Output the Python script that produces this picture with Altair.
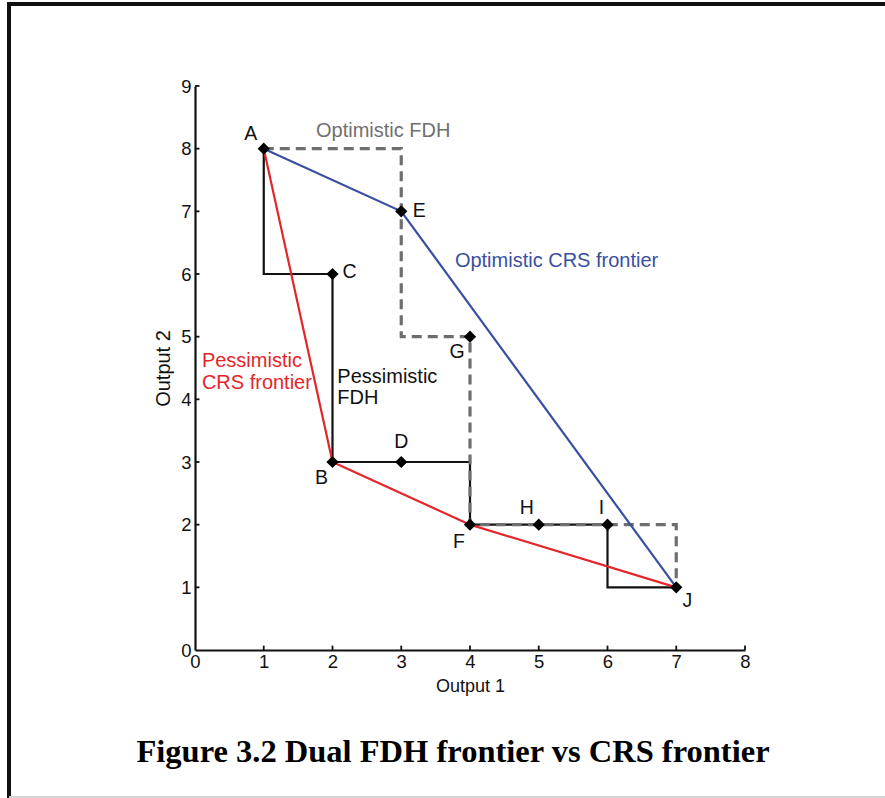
import altair as alt
import pandas as pd

# Decision-making units
unit_names = ["A", "B", "C", "D", "E", "F", "G", "H", "I", "J"]
output1 = [1, 2, 2, 3, 3, 4, 4, 5, 6, 7]
output2 = [8, 3, 6, 3, 7, 2, 5, 2, 2, 1]

# Frontier paths (vertices in drawing order)
opt_fdh_x = [1, 3, 3, 4, 4, 7, 7]
opt_fdh_y = [8, 8, 5, 5, 2, 2, 1]
pes_fdh_x = [1, 1, 2, 2, 4, 4, 6, 6, 7]
pes_fdh_y = [8, 6, 6, 3, 3, 2, 2, 1, 1]
opt_crs_units = ["A", "E", "J"]
pes_crs_units = ["A", "B", "F", "J"]

x_ticks = [0, 1, 2, 3, 4, 5, 6, 7, 8]
y_ticks = [0, 1, 2, 3, 4, 5, 6, 7, 8, 9]

# Annotation texts with their anchor points in data units
ann_text = ["Optimistic FDH", "Optimistic CRS frontier", "Pessimistic", "CRS frontier", "Pessimistic", "FDH"]
ann_x = [1.76, 3.78, 0.10, 0.10, 2.07, 2.07]
ann_y = [8.28, 6.21, 4.61, 4.26, 4.36, 4.02]
ann_color = ["#707070", "#3a4fa2", "#e4262b", "#e4262b", "#111111", "#111111"]

caption = "Figure 3.2 Dual FDH frontier vs CRS frontier"

FONT = "Liberation Sans"
X = alt.Scale(domain=[0, 8], nice=False, zero=True)
Y = alt.Scale(domain=[0, 9], nice=False, zero=True)

units = pd.DataFrame({"name": unit_names, "x": output1, "y": output2})
lookup = dict(zip(unit_names, zip(output1, output2)))


def path_frame(xs, ys):
    return pd.DataFrame({"x": xs, "y": ys, "i": range(len(xs))})


def path_layer(df, color, width, dash=None):
    kw = dict(color=color, strokeWidth=width, strokeCap="butt", strokeJoin="miter")
    if dash:
        kw["strokeDash"] = dash
    return alt.Chart(df).mark_line(**kw).encode(
        x=alt.X("x:Q", scale=X), y=alt.Y("y:Q", scale=Y), order="i:Q"
    )


base_axes = alt.Chart(units).mark_point(opacity=0).encode(
    x=alt.X(
        "x:Q", scale=X, title="Output 1",
        axis=alt.Axis(values=x_ticks, format="d", grid=False, ticks=False,
                      domainColor="#111111", domainWidth=2.2,
                      labelFont=FONT, labelFontSize=18.5, labelColor="#111111",
                      labelPadding=2, labelFlush=False,
                      titleFont=FONT, titleFontSize=18, titleFontWeight="normal",
                      titleColor="#111111", titlePadding=7),
    ),
    y=alt.Y(
        "y:Q", scale=Y, title="Output 2",
        axis=alt.Axis(values=y_ticks, format="d", grid=False, ticks=False,
                      domainColor="#111111", domainWidth=2.2,
                      labelFont=FONT, labelFontSize=18.5, labelColor="#111111",
                      labelPadding=4, labelFlush=False,
                      titleFont=FONT, titleFontSize=20, titleFontWeight="normal",
                      titleColor="#111111", titlePadding=7),
    ),
)

# Inward tick marks on both axes
xt = pd.DataFrame({"x": x_ticks[1:], "y0": 0, "y1": 0.07})
yt = pd.DataFrame({"y": y_ticks[1:], "x0": 0, "x1": 0.065})
x_tick_layer = alt.Chart(xt).mark_rule(color="#111111", strokeWidth=1.8).encode(
    x=alt.X("x:Q", scale=X), y=alt.Y("y0:Q", scale=Y), y2="y1:Q"
)
y_tick_layer = alt.Chart(yt).mark_rule(color="#111111", strokeWidth=1.8).encode(
    y=alt.Y("y:Q", scale=Y), x=alt.X("x0:Q", scale=X), x2="x1:Q"
)

pes_fdh = path_layer(path_frame(pes_fdh_x, pes_fdh_y), "#111111", 2.2)
opt_fdh = path_layer(path_frame(opt_fdh_x, opt_fdh_y), "#6e6e6e", 3.2, [10, 6])
pes_crs = path_layer(
    path_frame([lookup[u][0] for u in pes_crs_units], [lookup[u][1] for u in pes_crs_units]),
    "#e4262b", 2.2,
)
opt_crs = path_layer(
    path_frame([lookup[u][0] for u in opt_crs_units], [lookup[u][1] for u in opt_crs_units]),
    "#3a4fa2", 2.2,
)

points = alt.Chart(units).mark_point(
    shape="diamond", filled=True, size=150, color="#000000", opacity=1
).encode(x=alt.X("x:Q", scale=X), y=alt.Y("y:Q", scale=Y))

# Letter label placement around each unit (pixel offsets)
label_offsets = {
    "A": (-13, -15), "B": (-11, 16), "C": (17, -2), "D": (0, -20), "E": (18, 0),
    "F": (-11, 17), "G": (-13, 15), "H": (-12, -17), "I": (-6, -17), "J": (11, 14),
}
letter_layers = []
for name, (dx, dy) in label_offsets.items():
    letter_layers.append(
        alt.Chart(units[units["name"] == name]).mark_text(
            font=FONT, fontSize=19.5, color="#111111", dx=dx, dy=dy
        ).encode(x=alt.X("x:Q", scale=X), y=alt.Y("y:Q", scale=Y), text="name:N")
    )

ann = pd.DataFrame({"t": ann_text, "x": ann_x, "y": ann_y, "c": ann_color})
annotations = alt.Chart(ann).mark_text(
    font=FONT, fontSize=20, align="left", baseline="middle"
).encode(
    x=alt.X("x:Q", scale=X), y=alt.Y("y:Q", scale=Y), text="t:N",
    color=alt.Color("c:N", scale=None),
)

# Caption beneath the plot
caption_layer = alt.Chart(pd.DataFrame({"t": [caption]})).mark_text(
    font="Liberation Serif", fontSize=32.5, fontWeight="bold", color="#000000",
    align="center", baseline="middle",
).encode(x=alt.value(258), y=alt.value(666), text="t:N")

# Figure frame
frame = [
    alt.Chart(units).mark_rule(color="#111111", strokeWidth=3).encode(
        x=alt.value(-186), y=alt.value(-83), y2=alt.value(712)
    ),
    alt.Chart(units).mark_rule(color="#111111", strokeWidth=3).encode(
        x=alt.value(-188), x2=alt.value(700), y=alt.value(-82)
    ),
    alt.Chart(units).mark_rule(color="#d4d4d4", strokeWidth=2).encode(
        x=alt.value(-186), x2=alt.value(700), y=alt.value(711)
    ),
]

chart = alt.layer(
    base_axes, x_tick_layer, y_tick_layer,
    pes_fdh, opt_fdh, pes_crs, opt_crs, points,
    *letter_layers, annotations, caption_layer, *frame,
).properties(
    width=550,
    height=564,
    padding={"left": 195, "top": 86, "right": 140, "bottom": 148},
    autosize=alt.AutoSizeParams(type="none"),
    background="white",
).configure_view(stroke=None)

chart.save("out.html", embed_options={"renderer": "svg", "actions": False})
